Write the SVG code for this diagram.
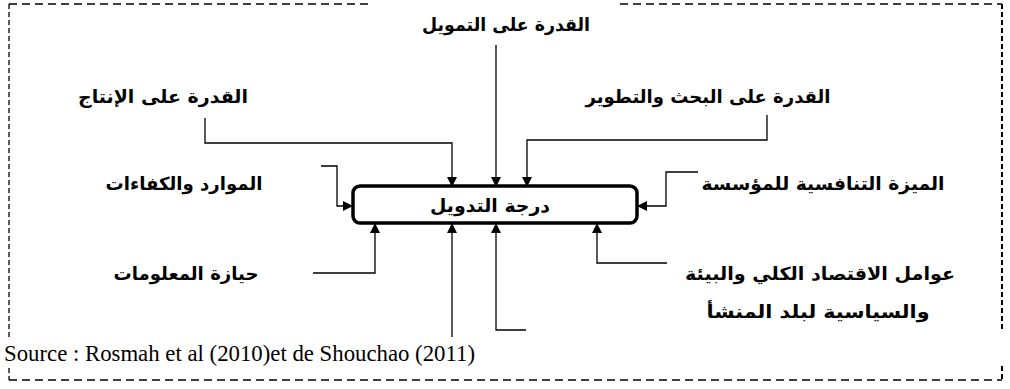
<svg xmlns="http://www.w3.org/2000/svg" width="1010" height="389" viewBox="0 0 1010 389">
<style>
.ar{font-family:"DejaVu Sans","Noto Sans",sans-serif;font-weight:bold;font-size:18px;fill:#000;text-anchor:middle}
.src{font-family:"Liberation Serif","Times New Roman",serif;font-size:23px;fill:#000}
.c{fill:none;stroke:#000;stroke-width:1.3}
.bh{fill:none;stroke:#000;stroke-width:1.3;stroke-dasharray:8 5}
.bl{fill:none;stroke:#000;stroke-width:1.3;stroke-dasharray:5 3}
.br{fill:none;stroke:#000;stroke-width:2;stroke-dasharray:5 3}
</style>
<defs>
<marker id="ah" markerWidth="10" markerHeight="10" refX="9" refY="5" orient="auto" markerUnits="userSpaceOnUse">
<path d="M0,0 L10,5 L0,10 Z" fill="#000"/>
</marker>
</defs>
<g id="frame">
<path class="bh" d="M9 4 H372"/>
<path class="bh" d="M620 4 H1002"/>
<path class="bh" d="M9 380 H1002"/>
<path class="bl" d="M9 4 V338"/>
<path class="bl" d="M9 368 V380"/>
<path class="br" d="M1002 4 V330"/>
<path class="br" d="M1002 366 V380"/>
</g>
<g id="connectors">
<path class="c" marker-end="url(#ah)" d="M205 118 V143 H452 V186"/>
<path class="c" marker-end="url(#ah)" d="M496 45 V186"/>
<path class="c" marker-end="url(#ah)" d="M767 115 V140 H527 V186"/>
<path class="c" marker-end="url(#ah)" d="M321 166 H337 V206 H352"/>
<path class="c" marker-end="url(#ah)" d="M698 172 H666 V206 H638"/>
<path class="c" marker-end="url(#ah)" d="M313 273 H375 V224"/>
<path class="c" marker-end="url(#ah)" d="M452 337 V224"/>
<path class="c" marker-end="url(#ah)" d="M526 330 H496 V224"/>
<path class="c" marker-end="url(#ah)" d="M667 263 H597 V224"/>
</g>
<g id="center">
<rect x="353" y="186" width="284" height="37" rx="7" fill="#fff" stroke="#000" stroke-width="3.5"/>
<text class="ar" x="490" y="212" textLength="120" lengthAdjust="spacingAndGlyphs">درجة التدويل</text>
</g>
<g id="finance"><text class="ar" x="506" y="31" textLength="168" lengthAdjust="spacingAndGlyphs">القدرة على التمويل</text></g>
<g id="production"><text class="ar" x="163" y="103" textLength="170" lengthAdjust="spacingAndGlyphs">القدرة على الإنتاج</text></g>
<g id="rnd"><text class="ar" x="708" y="103" textLength="245" lengthAdjust="spacingAndGlyphs">القدرة على البحث والتطوير</text></g>
<g id="resources"><text class="ar" x="184" y="190" textLength="157" lengthAdjust="spacingAndGlyphs">الموارد والكفاءات</text></g>
<g id="advantage"><text class="ar" x="823" y="190" textLength="243" lengthAdjust="spacingAndGlyphs">الميزة التنافسية للمؤسسة</text></g>
<g id="information"><text class="ar" x="186" y="280" textLength="145" lengthAdjust="spacingAndGlyphs">حيازة المعلومات</text></g>
<g id="macro">
<text class="ar" x="820" y="280" textLength="270" lengthAdjust="spacingAndGlyphs">عوامل الاقتصاد الكلي والبيئة</text>
<text class="ar" x="818" y="318" textLength="223" lengthAdjust="spacingAndGlyphs">والسياسية لبلد المنشأ</text>
</g>
<text class="src" x="4" y="361" textLength="471" lengthAdjust="spacingAndGlyphs">Source : Rosmah et al (2010)et de Shouchao (2011)</text>
</svg>
